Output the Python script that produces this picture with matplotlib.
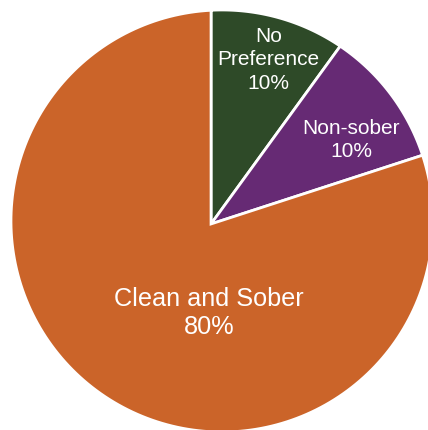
import numpy as np
import matplotlib
matplotlib.use("Agg")
import matplotlib.pyplot as plt

plt.rcParams['font.family'] = ['Liberation Sans', 'DejaVu Sans']

categories = ['No\nPreference', 'Non-sober', 'Clean and Sober']
shares = [10, 10, 80]
colors = ['#2E4A28', '#662A74', '#CB6429']

# the slices meet a little left of the circle's centre
vertex = np.array([-0.052, -0.014])
radius = 1.0


def ray_end(theta):
    # where a ray from the vertex leaves the circle
    d = np.array([np.cos(theta), np.sin(theta)])
    b = vertex @ d
    t = -b + np.sqrt(b * b - (vertex @ vertex - radius ** 2))
    return vertex + t * d


def slice_outline(t1, t2):
    # t1 > t2, slices run clockwise from 12 o'clock
    p1, p2 = ray_end(t1), ray_end(t2)
    a1 = np.arctan2(p1[1], p1[0])
    a2 = np.arctan2(p2[1], p2[0])
    while a2 > a1:
        a2 -= 2 * np.pi
    arc = np.linspace(a1, a2, 200)
    xs = np.concatenate([[vertex[0]], radius * np.cos(arc), [vertex[0]]])
    ys = np.concatenate([[vertex[1]], radius * np.sin(arc), [vertex[1]]])
    return xs, ys


fig = plt.figure(figsize=(4.28, 4.31), dpi=100)
ax = fig.add_axes([0, 0, 1, 1])

bounds = 90 - 360 * np.concatenate([[0], np.cumsum(shares)]) / sum(shares)
mids = []
for i, color in enumerate(colors):
    t1, t2 = np.deg2rad(bounds[i]), np.deg2rad(bounds[i + 1])
    xs, ys = slice_outline(t1, t2)
    ax.fill(xs, ys, facecolor=color, edgecolor='white', linewidth=2,
            joinstyle='miter')
    mids.append((t1 + t2) / 2)

# small slices: label along the middle angle
label_r = [0.828, 0.776]
label_ang = [np.deg2rad(70.9), np.deg2rad(31.3)]
for name, val, r, a in zip(categories[:2], shares[:2], label_r, label_ang):
    ax.text(vertex[0] + r * np.cos(a), vertex[1] + r * np.sin(a),
            f'{name}\n{val}%', ha='center', va='center', color='white',
            fontsize=15.0, linespacing=1.28)
ax.text(vertex[0] - 0.009, vertex[1] - 0.417, f'{categories[2]}\n{shares[2]}%',
        ha='center', va='center', color='white', fontsize=18.2,
        linespacing=1.18)

ax.set_xlim(-1.052, 0.976)
ax.set_ylim(-0.9905, 1.052)
ax.axis('off')

fig.savefig('out.png', dpi=100)
